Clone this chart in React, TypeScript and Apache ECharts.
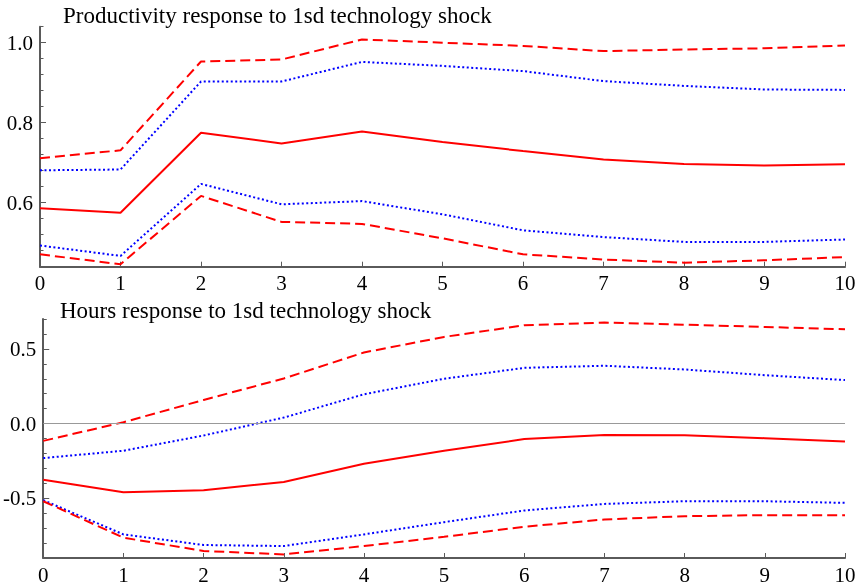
import React, { useEffect, useRef } from "react";
import * as echarts from "echarts";

const horizon = [0, 1, 2, 3, 4, 5, 6, 7, 8, 9, 10];

const prodMid = [0.586, 0.575, 0.775, 0.748, 0.778, 0.752, 0.729, 0.708, 0.697, 0.693, 0.696];
const prodUpOuter = [0.711, 0.731, 0.953, 0.958, 1.008, 1.0, 0.992, 0.979, 0.983, 0.986, 0.993];
const prodUpInner = [0.681, 0.683, 0.903, 0.903, 0.952, 0.942, 0.929, 0.904, 0.892, 0.883, 0.882];
const prodLoInner = [0.493, 0.467, 0.647, 0.596, 0.604, 0.571, 0.531, 0.514, 0.502, 0.502, 0.508];
const prodLoOuter = [0.471, 0.446, 0.617, 0.552, 0.547, 0.511, 0.471, 0.458, 0.45, 0.456, 0.464];

const hoursMid = [-0.376, -0.46, -0.447, -0.391, -0.269, -0.182, -0.104, -0.076, -0.078, -0.098, -0.12];
const hoursUpOuter = [-0.116, 0.009, 0.158, 0.302, 0.476, 0.58, 0.658, 0.676, 0.662, 0.647, 0.631];
const hoursUpInner = [-0.231, -0.182, -0.08, 0.04, 0.196, 0.3, 0.373, 0.387, 0.362, 0.324, 0.291];
const hoursLoInner = [-0.513, -0.742, -0.813, -0.82, -0.742, -0.66, -0.582, -0.538, -0.52, -0.52, -0.531];
const hoursLoOuter = [-0.52, -0.764, -0.853, -0.876, -0.82, -0.758, -0.691, -0.642, -0.62, -0.613, -0.613];

const prodTicks = [0.6, 0.8, 1.0];
const hoursTicks = [-0.5, 0.0, 0.5];

const topTitle = "Productivity response to 1sd technology shock";
const bottomTitle = "Hours response to 1sd technology shock";

const FONT = "Liberation Serif";
const AXIS_COLOR = "#5a5a5a";

function pairs(ys: number[]) {
  return horizon.map((x, i) => [x, ys[i]]);
}

export default function App() {
  const ref = useRef<HTMLDivElement>(null);
  useEffect(() => {
    if (!ref.current) return;
    const chart = echarts.init(ref.current, null, { renderer: "svg" });

    const xAxisBase = (gridIndex: number) => ({
      type: "value",
      gridIndex,
      min: 0,
      max: 10,
      interval: 1,
      axisLine: { show: true, onZero: false, lineStyle: { color: AXIS_COLOR, width: 2 } },
      axisTick: { show: true, inside: true, length: 5, lineStyle: { color: AXIS_COLOR, width: 1 } },
      axisLabel: { show: true, margin: 6, fontFamily: FONT, fontSize: 21, color: "#000" },
      splitLine: { show: false },
    });

    const yMain = (gridIndex: number, min: number, max: number, ticks: number[]) => ({
      type: "value",
      gridIndex,
      min,
      max,
      position: "left",
      axisLine: { show: true, onZero: false, lineStyle: { color: AXIS_COLOR, width: 2 } },
      axisTick: { show: true, inside: true, length: 6, customValues: ticks, lineStyle: { color: AXIS_COLOR, width: 1 } },
      axisLabel: {
        show: true,
        customValues: ticks,
        margin: 7,
        fontFamily: FONT,
        fontSize: 21,
        color: "#000",
        formatter: (v: number) => v.toFixed(1),
      },
      splitLine: { show: false },
    });

    const yMinor = (gridIndex: number, min: number, max: number, interval: number) => ({
      type: "value",
      gridIndex,
      min,
      max,
      interval,
      position: "left",
      axisLine: { show: false },
      axisTick: { show: true, inside: true, length: 3.5, lineStyle: { color: AXIS_COLOR, width: 1 } },
      axisLabel: { show: false },
      splitLine: { show: false },
    });

    const solid = { color: "#ff0000", width: 2, type: "solid" };
    const dashed = { color: "#ff0000", width: 2, type: [10, 5] };
    const dotted = { color: "#0000ff", width: 2, type: [2, 2.5] };

    const mk = (data: number[], xi: number, yi: number, ls: any, extra: any = {}) => ({
      type: "line",
      xAxisIndex: xi,
      yAxisIndex: yi,
      data: pairs(data),
      showSymbol: false,
      symbol: "none",
      lineStyle: ls,
      itemStyle: { color: ls.color },
      ...extra,
    });

    chart.setOption({
      animation: false,
      graphic: [
        {
          type: "text",
          left: 63,
          top: 3.5,
          style: { text: topTitle, font: `23px "${FONT}"`, fill: "#000" },
        },
        {
          type: "text",
          left: 60,
          top: 298.5,
          style: { text: bottomTitle, font: `23px "${FONT}"`, fill: "#000" },
        },
      ],
      grid: [
        { left: 40, top: 26.7, width: 805, height: 240, containLabel: false },
        { left: 40, top: 319, width: 805, height: 240, containLabel: false },
      ],
      xAxis: [xAxisBase(0), xAxisBase(1)],
      yAxis: [
        yMain(0, 0.44, 1.04, prodTicks),
        yMinor(0, 0.44, 1.04, 0.04),
        yMain(1, -0.9, 0.7, hoursTicks),
        yMinor(1, -0.9, 0.7, 0.1),
      ],
      series: [
        mk(prodUpOuter, 0, 0, dashed),
        mk(prodUpInner, 0, 0, dotted),
        mk(prodMid, 0, 0, solid),
        mk(prodLoInner, 0, 0, dotted),
        mk(prodLoOuter, 0, 0, dashed),
        mk(hoursUpOuter, 1, 2, dashed),
        mk(hoursUpInner, 1, 2, dotted),
        mk(hoursMid, 1, 2, solid, {
          markLine: {
            silent: true,
            symbol: ["none", "none"],
            label: { show: false },
            lineStyle: { color: "#999", width: 1, type: "solid" },
            data: [{ yAxis: 0 }],
          },
        }),
        mk(hoursLoInner, 1, 2, dotted),
        mk(hoursLoOuter, 1, 2, dashed),
      ],
    });

    return () => chart.dispose();
  }, []);

  return <div ref={ref} style={{ position: "fixed", left: 0, top: 0, width: 860, height: 585 }} />;
}
